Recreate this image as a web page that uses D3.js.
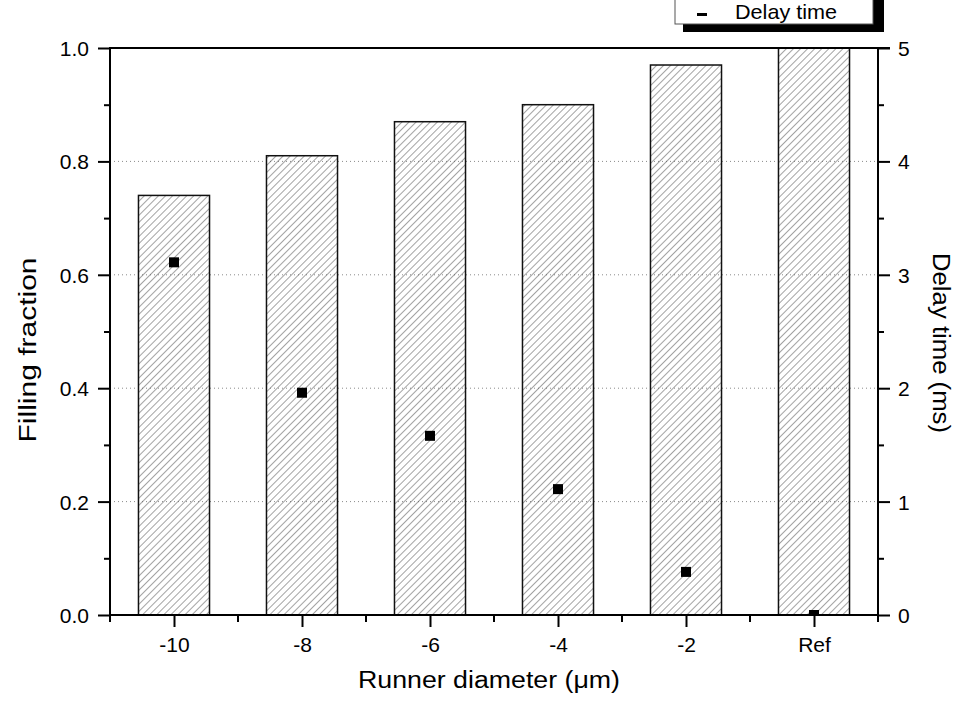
<!DOCTYPE html>
<html>
<head>
<meta charset="utf-8">
<script src="https://cdn.jsdelivr.net/npm/d3@7"></script>
<style>
  html, body { margin: 0; padding: 0; background: #fff; }
  svg { display: block; font-family: Arial, "Liberation Sans", Helvetica, sans-serif; }
</style>
</head>
<body>
<svg id="chart" width="956" height="707"></svg>
<script>
// ---- data ----
const categories = ["-10", "-8", "-6", "-4", "-2", "Ref"];
const fillingFraction = [0.74, 0.81, 0.87, 0.90, 0.97, 1.00];
const delayTime = [3.11, 1.96, 1.58, 1.11, 0.38, 0.00];
const leftTicks = [0.0, 0.2, 0.4, 0.6, 0.8, 1.0];
const leftMinorTicks = [0.1, 0.3, 0.5, 0.7, 0.9];
const rightTicks = [0, 1, 2, 3, 4, 5];
const rightMinorTicks = [0.5, 1.5, 2.5, 3.5, 4.5];
const gridTicks = [0.2, 0.4, 0.6, 0.8];
const xTitle = "Runner diameter (\u03bcm)";
const yLeftTitle = "Filling fraction";
const yRightTitle = "Delay time (ms)";
const legendLabel = "Delay time";

// ---- layout ----
const L = 110, R = 878, T = 48, B = 615;
const svg = d3.select("#chart");

const x = d3.scaleBand().domain(categories).range([L, R]).paddingInner(0).paddingOuter(0);
const yL = d3.scaleLinear().domain([0, 1]).range([B, T]);
const yR = d3.scaleLinear().domain([0, 5]).range([B, T]);

const defs = svg.append("defs");
const pat = defs.append("pattern")
  .attr("id", "hatch").attr("patternUnits", "userSpaceOnUse")
  .attr("width", 5).attr("height", 10)
  .attr("patternTransform", "rotate(45)");
pat.append("line").attr("x1", 0).attr("y1", 0).attr("x2", 0).attr("y2", 10)
  .attr("stroke", "#555").attr("stroke-width", 1.1);
defs.append("clipPath").attr("id", "plotclip")
  .append("rect").attr("x", L).attr("y", T).attr("width", R - L).attr("height", B - T);

// ---- legend (box runs off the top of the page) ----
const lg = svg.append("g");
lg.append("rect").attr("x", 683).attr("y", -20).attr("width", 201).attr("height", 52).attr("fill", "#000");
lg.append("rect").attr("x", 675).attr("y", -28).attr("width", 198).attr("height", 52)
  .attr("fill", "#fff").attr("stroke", "#555").attr("stroke-width", 1);
lg.append("rect").attr("x", 697).attr("y", 13).attr("width", 10).attr("height", 3).attr("fill", "#000");
lg.append("text").attr("x", 735).attr("y", 19).attr("font-size", 21).attr("fill", "#000")
  .attr("textLength", 102).attr("lengthAdjust", "spacingAndGlyphs").text(legendLabel);

// ---- gridlines ----
svg.append("g").selectAll("line").data(gridTicks).join("line")
  .attr("x1", L).attr("x2", R)
  .attr("y1", d => yL(d)).attr("y2", d => yL(d))
  .attr("stroke", "#8a8a8a").attr("stroke-width", 1).attr("stroke-dasharray", "1,3");

// ---- bars ----
const bw = x.bandwidth() * 0.555;
svg.append("g").selectAll("rect").data(categories).join("rect")
  .attr("x", (d) => x(d) + x.bandwidth() / 2 - bw / 2)
  .attr("width", bw)
  .attr("y", (d, i) => yL(fillingFraction[i]))
  .attr("height", (d, i) => B - yL(fillingFraction[i]))
  .attr("fill", "url(#hatch)")
  .attr("stroke", "#111").attr("stroke-width", 1.5);

// ---- markers ----
const ms = 10;
svg.append("g").attr("clip-path", "url(#plotclip)")
  .selectAll("rect").data(categories).join("rect")
  .attr("x", d => x(d) + x.bandwidth() / 2 - ms / 2)
  .attr("y", (d, i) => yR(delayTime[i]) - ms / 2)
  .attr("width", ms).attr("height", ms).attr("fill", "#000");

// ---- axes ----
const sw = 2;
function styleAxis(g) {
  g.attr("font-size", 21).attr("font-family", "Arial, 'Liberation Sans', sans-serif");
  g.select(".domain").remove();
  g.selectAll(".tick line").attr("stroke", "#000").attr("stroke-width", sw);
  g.selectAll("text").attr("fill", "#000").attr("font-size", 21);
}
// frame lines
const frame = svg.append("g").attr("stroke", "#000").attr("stroke-width", sw).attr("fill", "none");
frame.append("line").attr("x1", L).attr("x2", R + 12).attr("y1", T).attr("y2", T);
frame.append("line").attr("x1", L - 1).attr("x2", R + 1).attr("y1", B).attr("y2", B);
frame.append("line").attr("x1", L).attr("x2", L).attr("y1", T - 1).attr("y2", B + 1);
frame.append("line").attr("x1", R).attr("x2", R).attr("y1", T - 1).attr("y2", B + 1);

// bottom axis: major at centers, minor at band edges
const xPos = d3.scalePoint().domain(categories).range([L + x.bandwidth() / 2, R - x.bandwidth() / 2]);
const gx = svg.append("g").attr("transform", `translate(0,${B})`)
  .call(d3.axisBottom(xPos).tickSize(12).tickPadding(10));
styleAxis(gx);
gx.selectAll("text").attr("dy", null).attr("y", 37);
const edges = categories.map(c => x(c)).concat([R]);
svg.append("g").selectAll("line").data(edges).join("line")
  .attr("x1", d => d).attr("x2", d => d).attr("y1", B).attr("y2", B + 7)
  .attr("stroke", "#000").attr("stroke-width", sw);

// left axis
const gyl = svg.append("g").attr("transform", `translate(${L},0)`)
  .call(d3.axisLeft(yL).tickValues(leftTicks).tickFormat(d3.format(".1f")).tickSize(12).tickPadding(10));
styleAxis(gyl);
gyl.selectAll("text").attr("dy", "0.36em").attr("x", -21);
svg.append("g").attr("transform", `translate(${L},0)`)
  .call(d3.axisLeft(yL).tickValues(leftMinorTicks).tickFormat("").tickSize(6))
  .call(styleAxis);

// right axis
const gyr = svg.append("g").attr("transform", `translate(${R},0)`)
  .call(d3.axisRight(yR).tickValues(rightTicks).tickFormat(d3.format("d")).tickSize(12).tickPadding(8));
styleAxis(gyr);
gyr.selectAll("text").attr("dy", "0.36em").attr("x", 20);
svg.append("g").attr("transform", `translate(${R},0)`)
  .call(d3.axisRight(yR).tickValues(rightMinorTicks).tickFormat("").tickSize(6))
  .call(styleAxis);

// ---- titles ----
svg.append("text").attr("x", 489).attr("y", 688).attr("text-anchor", "middle")
  .attr("font-size", 23).attr("fill", "#000")
  .attr("textLength", 262).attr("lengthAdjust", "spacingAndGlyphs").text(xTitle);
svg.append("text").attr("transform", "translate(36,350) rotate(-90)").attr("text-anchor", "middle")
  .attr("font-size", 23).attr("fill", "#000")
  .attr("textLength", 185).attr("lengthAdjust", "spacingAndGlyphs").text(yLeftTitle);
svg.append("text").attr("transform", "translate(933,343) rotate(90)").attr("text-anchor", "middle")
  .attr("font-size", 23).attr("fill", "#000")
  .attr("textLength", 180).attr("lengthAdjust", "spacingAndGlyphs").text(yRightTitle);
</script>
</body>
</html>
